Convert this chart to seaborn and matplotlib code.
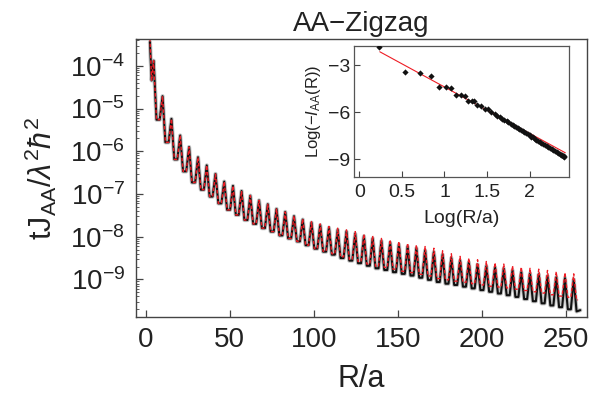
import numpy as np
import pandas as pd
import matplotlib
matplotlib.use('Agg')
import matplotlib.pyplot as plt
import matplotlib.ticker as mticker
import seaborn as sns

# main panel: peak positions (R/a) and log10 values
peak_r = [4.8, 10.1, 15.4, 20.6, 25.9, 31.2, 36.4, 41.6, 46.8, 52.0,
          57.1, 62.3, 67.5, 72.7, 77.9, 83.1, 88.3, 93.5, 98.7, 103.9,
          109.1, 114.3, 119.5, 124.7, 129.9, 135.1, 140.3, 145.5, 150.7, 155.9,
          161.1, 166.3, 171.5, 176.7, 181.9, 187.1, 192.3, 197.5, 202.7, 207.9,
          213.1, 218.3, 223.5, 228.7, 233.9, 239.1, 244.3, 249.5, 254.7]
peak_black = [-3.88, -4.71, -5.24, -5.63, -5.90, -6.14, -6.33, -6.53, -6.71, -6.81,
              -6.93, -7.04, -7.15, -7.24, -7.35, -7.42, -7.52, -7.60, -7.67, -7.73,
              -7.79, -7.84, -7.88, -7.93, -7.99, -8.04, -8.10, -8.14, -8.18, -8.23,
              -8.27, -8.32, -8.36, -8.42, -8.50, -8.56, -8.60, -8.65, -8.69, -8.72,
              -8.75, -8.79, -8.83, -8.86, -8.88, -8.92, -8.95, -8.97, -9.00]
peak_red = [-3.88, -4.71, -5.24, -5.63, -5.90, -6.14, -6.33, -6.53, -6.71, -6.81,
            -6.93, -7.04, -7.15, -7.24, -7.35, -7.42, -7.51, -7.58, -7.65, -7.70,
            -7.76, -7.80, -7.84, -7.88, -7.94, -7.98, -8.04, -8.07, -8.11, -8.15,
            -8.19, -8.23, -8.27, -8.33, -8.40, -8.46, -8.50, -8.54, -8.58, -8.61,
            -8.64, -8.68, -8.71, -8.74, -8.76, -8.79, -8.82, -8.84, -8.87]
# trough between peak k and peak k+1
trough_black = [-5.26, -5.79, -6.19, -6.47, -6.73, -6.90, -7.06, -7.22, -7.37, -7.49,
                -7.61, -7.70, -7.80, -7.88, -7.97, -8.04, -8.11, -8.20, -8.28, -8.35,
                -8.42, -8.50, -8.56, -8.62, -8.68, -8.74, -8.78, -8.83, -8.87, -8.91,
                -8.96, -9.01, -9.06, -9.10, -9.13, -9.17, -9.21, -9.25, -9.29, -9.33,
                -9.37, -9.41, -9.46, -9.51, -9.56, -9.61, -9.65, -9.70]
trough_red = [-5.26, -5.79, -6.19, -6.47, -6.73, -6.90, -7.06, -7.22, -7.37, -7.49,
              -7.61, -7.70, -7.80, -7.88, -7.97, -8.04, -8.11, -8.20, -8.28, -8.34,
              -8.40, -8.47, -8.53, -8.58, -8.64, -8.69, -8.72, -8.76, -8.81, -8.84,
              -8.88, -8.92, -8.98, -9.01, -9.04, -9.07, -9.10, -9.13, -9.16, -9.18,
              -9.20, -9.23, -9.26, -9.29, -9.32, -9.36, -9.39, -9.42]
# first points before the first peak, and the tail after the last one
head_r = [2.6, 3.6]
head_black = [-3.44, -4.34]
head_red = [-3.35, -4.34]
tail_r = [256.4, 258.6]
tail_black = [-9.75, -9.72]
tail_red = [-9.48, -9.48]

# inset: log-log points and fitted line
inset_x = [0.235, 0.538, 0.714, 0.836, 0.934, 1.016, 1.079, 1.138, 1.19, 1.24,
           1.279, 1.326, 1.35, 1.385, 1.435, 1.471, 1.514, 1.546, 1.59,
           1.62, 1.65, 1.68, 1.70, 1.73, 1.75, 1.78, 1.80, 1.82, 1.84,
           1.86, 1.88, 1.90, 1.92, 1.94, 1.96, 1.98, 2.00, 2.02, 2.04,
           2.06, 2.08, 2.10, 2.12, 2.14, 2.16, 2.18, 2.20, 2.22, 2.24,
           2.26, 2.28, 2.30, 2.32, 2.34, 2.36, 2.37, 2.38, 2.39, 2.40, 2.41]
inset_y = [-1.85, -3.45, -3.51, -3.66, -4.37, -4.41, -4.48, -4.90, -4.92, -4.97,
           -5.27, -5.29, -5.31, -5.57, -5.59, -5.80, -5.82, -6.01, -6.12,
           -6.22, -6.32, -6.42, -6.49, -6.59, -6.65, -6.75, -6.82, -6.89, -6.96,
           -7.02, -7.09, -7.16, -7.22, -7.29, -7.36, -7.42, -7.49, -7.56, -7.62,
           -7.69, -7.76, -7.82, -7.89, -7.96, -8.02, -8.09, -8.16, -8.22, -8.29,
           -8.36, -8.42, -8.49, -8.56, -8.62, -8.69, -8.72, -8.76, -8.79, -8.82, -8.86]
fit_x = [0.24, 2.42]
fit_y = [-2.13, -8.60]

PLATEAU = 1.7  # half-width of the flat bottom between two peaks (R/a)


def build_curve(peaks, troughs, head, tail):
    xs = list(head_r)
    ys = list(head)
    for k, r in enumerate(peak_r):
        xs.append(r)
        ys.append(peaks[k])
        if k < len(troughs):
            xs += [r + PLATEAU, peak_r[k + 1] - PLATEAU]
            ys += [troughs[k], troughs[k]]
    xs += tail_r
    ys += tail
    return pd.DataFrame({'R': xs, 'J': 10.0 ** np.array(ys)})


black_df = build_curve(peak_black, trough_black, head_black, tail_black)
red_df = build_curve(peak_red, trough_red, head_red, tail_red)
red_df.loc[red_df.index[-1], 'R'] = 257.3

sns.set_theme(style='ticks')
plt.rcParams['font.family'] = ['Liberation Sans', 'DejaVu Sans']
plt.rcParams['mathtext.fontset'] = 'custom'
plt.rcParams['mathtext.rm'] = 'Liberation Sans'
plt.rcParams['mathtext.it'] = 'Liberation Sans:italic'
plt.rcParams['text.color'] = '#222222'
plt.rcParams['axes.labelcolor'] = '#222222'
plt.rcParams['xtick.color'] = '#444444'
plt.rcParams['ytick.color'] = '#444444'
plt.rcParams['xtick.labelcolor'] = '#222222'
plt.rcParams['ytick.labelcolor'] = '#222222'

fig = plt.figure(figsize=(5.98, 4.01), dpi=100)
ax = fig.add_axes([0.2274, 0.2095, 0.7542, 0.6933])

sns.lineplot(data=black_df, x='R', y='J', sort=False, estimator=None, ax=ax,
             color='#999999', lw=3.0, alpha=0.6)
sns.lineplot(data=black_df, x='R', y='J', sort=False, estimator=None, ax=ax,
             color='#111111', lw=1.5)
sns.lineplot(data=red_df, x='R', y='J', sort=False, estimator=None, ax=ax,
             color='#ee1c24', lw=1.0, linestyle=(0, (2.5, 1.5)))

ax.set_yscale('log')
ax.set_xlim(-5.7, 262.6)
ax.set_ylim(10 ** -9.88, 10 ** -3.37)
ax.set_xticks([0, 50, 100, 150, 200, 250])
ax.yaxis.set_major_locator(mticker.LogLocator(base=10, numticks=20))
ax.yaxis.set_minor_locator(mticker.LogLocator(base=10, subs=np.arange(2, 10), numticks=20))
ax.yaxis.set_minor_formatter(mticker.NullFormatter())
ax.tick_params(axis='both', which='major', direction='in', length=5, width=0.9,
               labelsize=20, top=False, right=False)
ax.tick_params(axis='x', pad=7)
ax.tick_params(axis='y', pad=8)
ax.tick_params(axis='y', which='minor', direction='in', length=2.5, width=0.6)
for s in ax.spines.values():
    s.set_color('#444444')
    s.set_linewidth(1.0)
ax.set_xlabel('R/a', fontsize=22, labelpad=8)
ax.set_ylabel(r'tJ$_{\mathrm{AA}}/\lambda^{2}\hbar^{2}$', fontsize=22, labelpad=8)
ax.set_title('AA\u2212Zigzag', fontsize=20, pad=6)

# inset
axin = fig.add_axes([0.592, 0.5579, 0.359, 0.3282])
sns.lineplot(x=fit_x, y=fit_y, ax=axin, color='#ee1c24', lw=0.8)
sns.scatterplot(x=inset_x, y=inset_y, ax=axin, color='#111111', s=10,
                marker='D', linewidth=0, zorder=3)
axin.set_xlim(-0.063, 2.46)
axin.set_ylim(-10.17, -1.74)
axin.set_xticks([0, 0.5, 1, 1.5, 2])
axin.set_xticklabels(['0', '0.5', '1', '1.5', '2'])
axin.set_yticks([-3, -6, -9])
axin.set_yticklabels(['\u22123', '\u22126', '\u22129'])
axin.tick_params(axis='both', direction='in', length=4, width=0.8, labelsize=14)
axin.tick_params(axis='x', pad=5)
axin.tick_params(axis='y', pad=3)
for s in axin.spines.values():
    s.set_color('#555555')
    s.set_linewidth(0.9)
axin.set_xlabel('Log(R/a)', fontsize=14, labelpad=6)
axin.set_ylabel(r'Log($-I_{\mathrm{AA}}$(R))', fontsize=12, labelpad=3)

fig.savefig('out.png', dpi=100)
